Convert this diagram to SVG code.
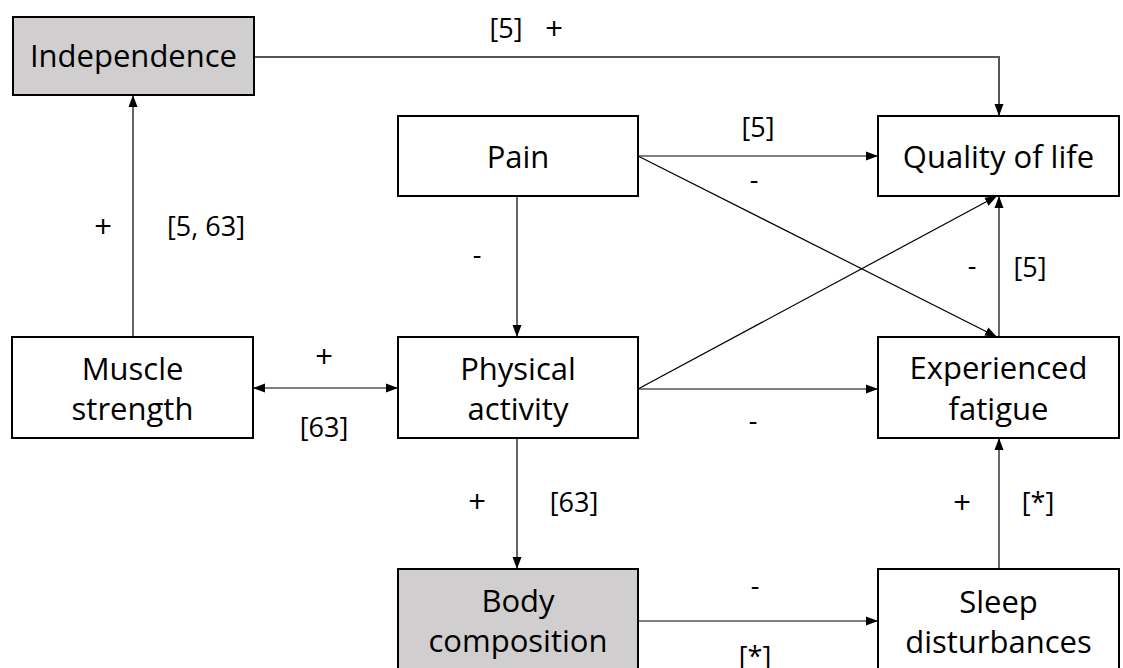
<svg xmlns="http://www.w3.org/2000/svg" width="1123" height="668" viewBox="0 0 1123 668">
<defs>
<marker id="ah" markerUnits="userSpaceOnUse" markerWidth="12" markerHeight="12" viewBox="0 0 12 12" refX="12" refY="6" orient="auto-start-reverse">
<path d="M0,1.5 L12,6 L0,10.5 Z" fill="#000"/>
</marker>
<style>
.box{stroke:#000;stroke-width:2;fill:#fff}
.grey{fill:#d0cece}
.t{font-family:"Open Sans","Liberation Sans",sans-serif;font-size:31px;fill:#000;text-anchor:middle}
.l{font-family:"Open Sans","Liberation Sans",sans-serif;font-size:27px;fill:#000;text-anchor:middle}
.p{font-size:31px}
.c{fill:none;stroke:#000;stroke-width:1.2}
</style>
</defs>
<rect width="1123" height="668" fill="#fff"/>
<g id="connectors">
<path class="c" d="M254,57 H999 V116" style="stroke:#555;stroke-width:2" marker-end="url(#ah)"/>
<path class="c" d="M133,337 V95" marker-end="url(#ah)"/>
<path class="c" d="M638,156 H878" marker-end="url(#ah)"/>
<path class="c" d="M638,156 L997,337" marker-end="url(#ah)"/>
<path class="c" d="M638,389 L997,196" marker-end="url(#ah)"/>
<path class="c" d="M638,389 H878" marker-end="url(#ah)"/>
<path class="c" d="M517,196 V337" marker-end="url(#ah)"/>
<path class="c" d="M517,438 V569" marker-end="url(#ah)"/>
<path class="c" d="M999,337 V196" marker-end="url(#ah)"/>
<path class="c" d="M999,569 V438" marker-end="url(#ah)"/>
<path class="c" d="M638,621 H878" marker-end="url(#ah)"/>
<path class="c" d="M253,388 H398" marker-start="url(#ah)" marker-end="url(#ah)"/>
<text class="l" x="506" y="38">[5]</text>
<text class="l p" x="554" y="40">+</text>
<text class="l" x="758" y="137">[5]</text>
<text class="l" x="754" y="189">-</text>
<text class="l p" x="103" y="238">+</text>
<text class="l" x="206" y="236">[5, 63]</text>
<text class="l" x="477" y="264">-</text>
<text class="l" x="972" y="275">-</text>
<text class="l" x="1030" y="277">[5]</text>
<text class="l p" x="324" y="368">+</text>
<text class="l" x="324" y="437">[63]</text>
<text class="l" x="753" y="430">-</text>
<text class="l p" x="477" y="513">+</text>
<text class="l" x="574" y="512">[63]</text>
<text class="l p" x="962" y="514">+</text>
<text class="l" x="1038" y="512">[*]</text>
<text class="l" x="755" y="595">-</text>
<text class="l" x="755" y="666">[*]</text>
</g>
<g id="independence">
<rect class="box grey" x="13" y="17" width="241" height="78"/>
<text class="t" x="133.5" y="67">Independence</text>
</g>
<g id="pain">
<rect class="box" x="398" y="116" width="240" height="80"/>
<text class="t" x="518" y="168">Pain</text>
</g>
<g id="quality-of-life">
<rect class="box" x="878" y="116" width="241" height="80"/>
<text class="t" x="998.5" y="168">Quality of life</text>
</g>
<g id="muscle-strength">
<rect class="box" x="12" y="337" width="241" height="101"/>
<text class="t" x="132.5" y="380">Muscle</text>
<text class="t" x="132.5" y="420">strength</text>
</g>
<g id="physical-activity">
<rect class="box" x="398" y="337" width="240" height="101"/>
<text class="t" x="518" y="380">Physical</text>
<text class="t" x="518" y="420">activity</text>
</g>
<g id="experienced-fatigue">
<rect class="box" x="878" y="337" width="241" height="101"/>
<text class="t" x="998.5" y="379">Experienced</text>
<text class="t" x="998.5" y="420">fatigue</text>
</g>
<g id="body-composition">
<rect class="box grey" x="398" y="569" width="240" height="110"/>
<text class="t" x="518" y="612">Body</text>
<text class="t" x="518" y="652">composition</text>
</g>
<g id="sleep-disturbances">
<rect class="box" x="878" y="569" width="241" height="110"/>
<text class="t" x="998.5" y="613">Sleep</text>
<text class="t" x="998.5" y="653">disturbances</text>
</g>
</svg>
